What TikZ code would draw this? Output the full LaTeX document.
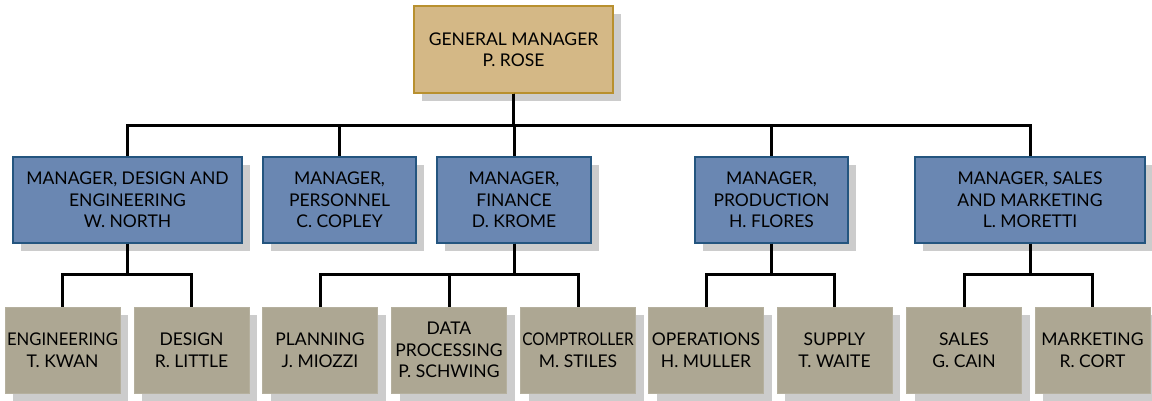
\documentclass[tikz,border=0pt]{standalone}
\usepackage{fontspec}
\setmainfont{Lato}
\usetikzlibrary{shadows}
\definecolor{goldfill}{HTML}{D4B886}
\definecolor{golddraw}{HTML}{B8902F}
\definecolor{bluefill}{HTML}{6A87B2}
\definecolor{bluedraw}{HTML}{24557F}
\definecolor{grayfill}{HTML}{ADA793}
\definecolor{shadowc}{HTML}{CCCCCC}
\begin{document}
\begin{tikzpicture}[x=1pt,y=-1pt,
  box/.style={rectangle, align=center, inner sep=0pt, font=\fontsize{17.5}{21.5}\selectfont,
    drop shadow={shadow xshift=8pt, shadow yshift=-8pt, fill=shadowc, opacity=1}},
  topbox/.style={box, fill=goldfill, draw=golddraw, line width=1.2pt, minimum width=199pt, minimum height=87pt},
  midbox/.style={box, fill=bluefill, draw=bluedraw, line width=1.2pt, minimum height=86pt},
  lowbox/.style={box, fill=grayfill, draw=grayfill!90!white, line width=0.6pt, minimum width=115pt, minimum height=86pt},
  conn/.style={draw=black, line width=3pt}]
\useasboundingbox (0,0) rectangle (1152,400);

\node[topbox] (gm) at (513.5,49.5) {GENERAL MANAGER\\P. ROSE};

\node[midbox, minimum width=229pt] (de) at (127.5,200) {MANAGER, DESIGN AND\\ENGINEERING\\W. NORTH};
\node[midbox, minimum width=153pt] (pe) at (339.5,200) {MANAGER,\\PERSONNEL\\C. COPLEY};
\node[midbox, minimum width=154pt] (fi) at (514,200) {MANAGER,\\FINANCE\\D. KROME};
\node[midbox, minimum width=153pt] (pr) at (771.5,200) {MANAGER,\\PRODUCTION\\H. FLORES};
\node[midbox, minimum width=230pt] (sm) at (1030,200) {MANAGER, SALES\\AND MARKETING\\L. MORETTI};

\node[lowbox] (en) at (62.5,350) {\scalebox{0.95}[1]{ENGINEERING}\\T. KWAN};
\node[lowbox] (ds) at (191.5,350) {DESIGN\\R. LITTLE};
\node[lowbox] (pl) at (320,350) {PLANNING\\J. MIOZZI};
\node[lowbox] (dp) at (449,350) {DATA\\PROCESSING\\P. SCHWING};
\node[lowbox] (co) at (578,350) {\scalebox{0.88}[1]{COMPTROLLER}\\M. STILES};
\node[lowbox] (op) at (706,350) {OPERATIONS\\H. MULLER};
\node[lowbox] (su) at (834.5,350) {SUPPLY\\T. WAITE};
\node[lowbox] (sa) at (964,350) {SALES\\G. CAIN};
\node[lowbox] (mk) at (1092.5,350) {MARKETING\\R. CORT};

% top level connectors
\foreach \c in {de,pe,fi,pr,sm}
  \draw[conn] (gm.south) -- ++(0,32) -| (\c.north);
% second level connectors
\foreach \c in {en,ds} \draw[conn] (de.south) -- ++(0,31) -| (\c.north);
\foreach \c in {pl,dp,co} \draw[conn] (fi.south) -- ++(0,31) -| (\c.north);
\foreach \c in {op,su} \draw[conn] (pr.south) -- ++(0,31) -| (\c.north);
\foreach \c in {sa,mk} \draw[conn] (sm.south) -- ++(0,31) -| (\c.north);
\end{tikzpicture}
\end{document}
